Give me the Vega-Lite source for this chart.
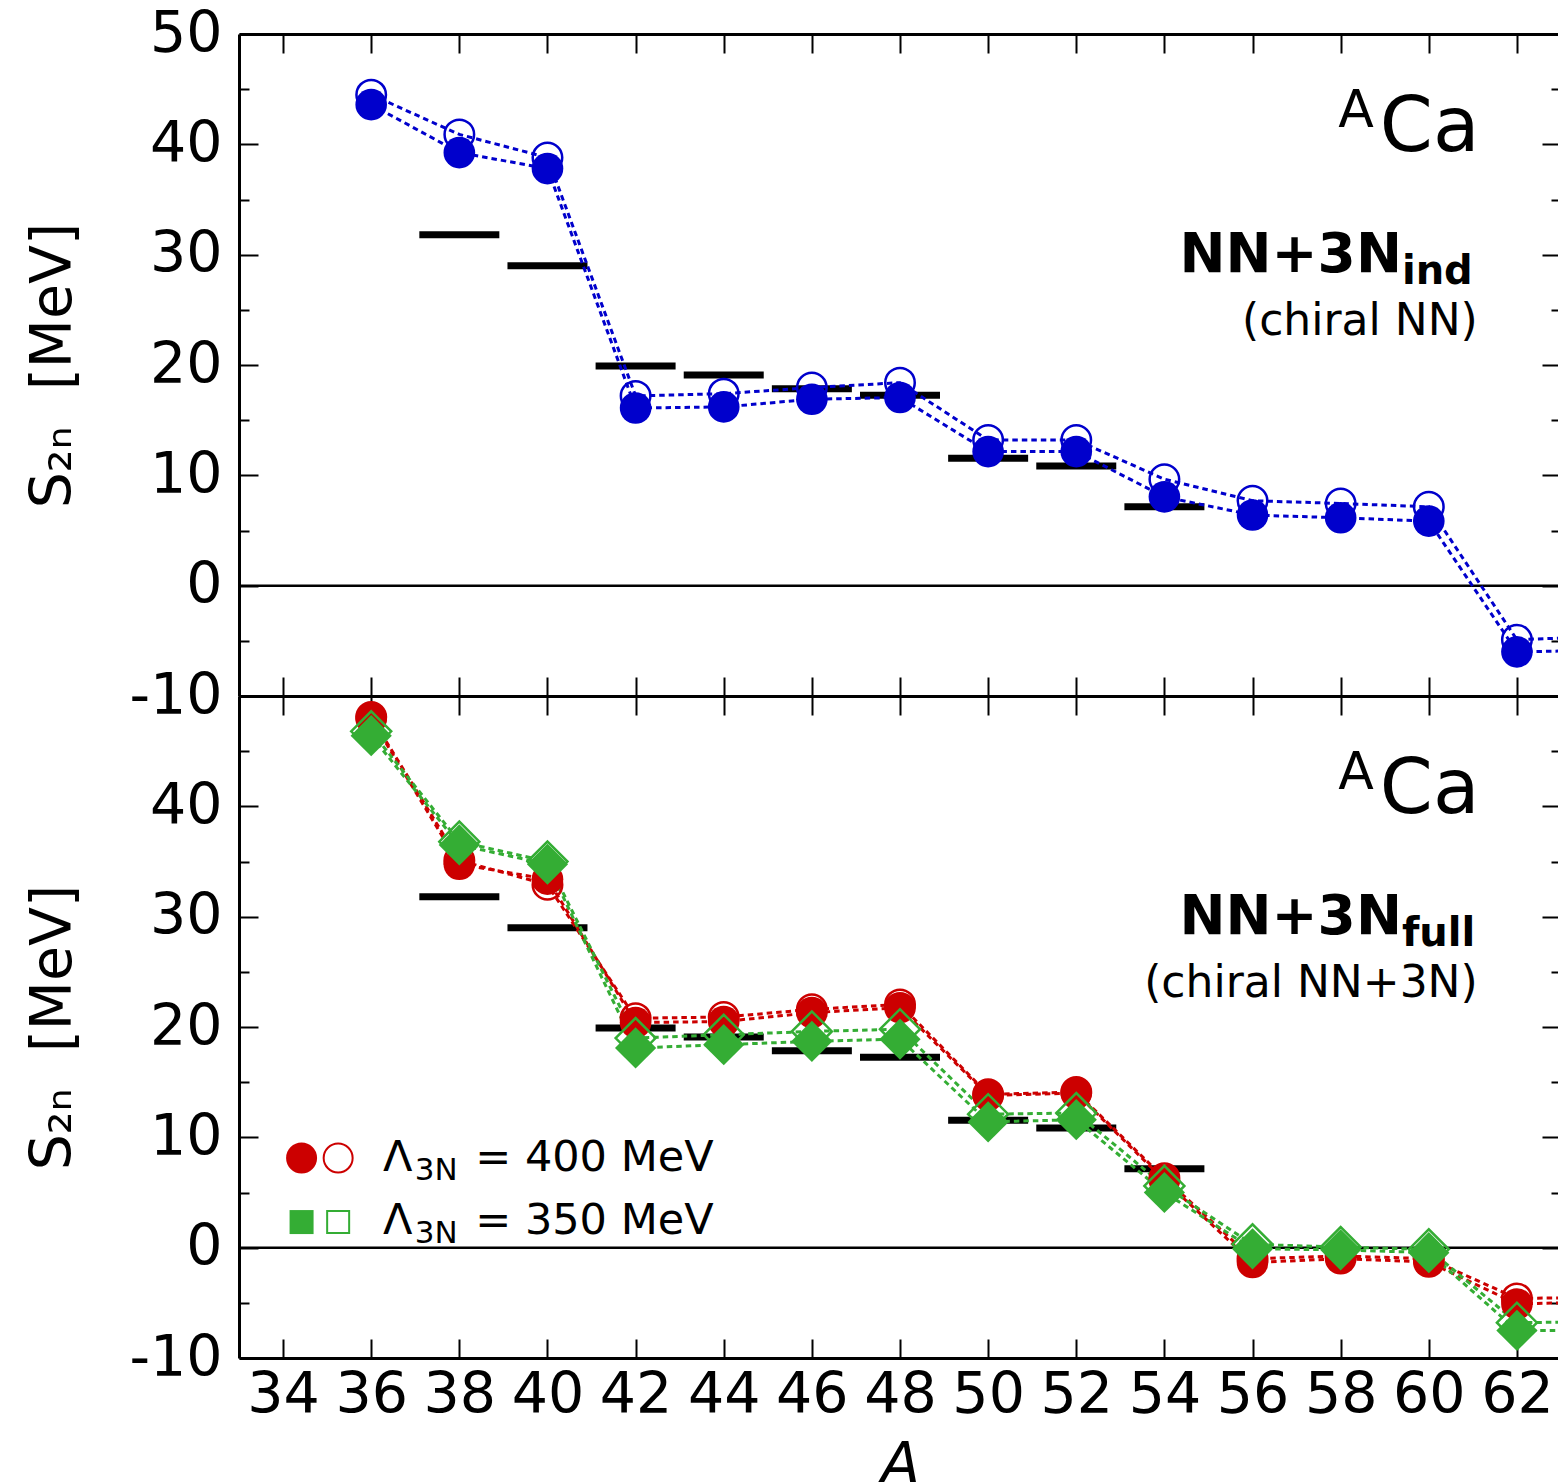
{
  "$schema": "https://vega.github.io/schema/vega-lite/v6.json",
  "background": "white",
  "padding": {"left": 24, "top": 5, "right": 0, "bottom": 0},
  "config": {
    "font": "DejaVu Sans",
    "view": {"stroke": null},
    "axis": {
      "grid": false,
      "domainColor": "black",
      "domainWidth": 3,
      "tickColor": "black",
      "tickWidth": 2,
      "labelFont": "DejaVu Sans",
      "labelFontSize": 57,
      "labelColor": "black",
      "labelFlush": false,
      "labelOverlap": false,
      "titleFont": "DejaVu Sans",
      "titleFontSize": 57,
      "titleFontWeight": "normal",
      "titleColor": "black"
    }
  },
  "spacing": 0,
  "bounds": "flush",
  "datasets": {
    "exp": [
      {"A": 38, "S": 31.8}, {"A": 40, "S": 29.0}, {"A": 42, "S": 19.9}, {"A": 44, "S": 19.1},
      {"A": 46, "S": 17.85}, {"A": 48, "S": 17.25}, {"A": 50, "S": 11.55}, {"A": 52, "S": 10.85}, {"A": 54, "S": 7.15}
    ],
    "theory": [
      {"panel": "top", "series": "ind", "kind": "open", "A": 36, "S": 44.5},
      {"panel": "top", "series": "ind", "kind": "open", "A": 38, "S": 40.9},
      {"panel": "top", "series": "ind", "kind": "open", "A": 40, "S": 38.8},
      {"panel": "top", "series": "ind", "kind": "open", "A": 42, "S": 17.2},
      {"panel": "top", "series": "ind", "kind": "open", "A": 44, "S": 17.4},
      {"panel": "top", "series": "ind", "kind": "open", "A": 46, "S": 17.95},
      {"panel": "top", "series": "ind", "kind": "open", "A": 48, "S": 18.4},
      {"panel": "top", "series": "ind", "kind": "open", "A": 50, "S": 13.2},
      {"panel": "top", "series": "ind", "kind": "open", "A": 52, "S": 13.2},
      {"panel": "top", "series": "ind", "kind": "open", "A": 54, "S": 9.65},
      {"panel": "top", "series": "ind", "kind": "open", "A": 56, "S": 7.7},
      {"panel": "top", "series": "ind", "kind": "open", "A": 58, "S": 7.45},
      {"panel": "top", "series": "ind", "kind": "open", "A": 60, "S": 7.15},
      {"panel": "top", "series": "ind", "kind": "open", "A": 62, "S": -4.9},
      {"panel": "top", "series": "ind", "kind": "open", "A": 64, "S": -4.6},
      {"panel": "top", "series": "ind", "kind": "filled", "A": 36, "S": 43.6},
      {"panel": "top", "series": "ind", "kind": "filled", "A": 38, "S": 39.25},
      {"panel": "top", "series": "ind", "kind": "filled", "A": 40, "S": 37.8},
      {"panel": "top", "series": "ind", "kind": "filled", "A": 42, "S": 16.1},
      {"panel": "top", "series": "ind", "kind": "filled", "A": 44, "S": 16.2},
      {"panel": "top", "series": "ind", "kind": "filled", "A": 46, "S": 16.9},
      {"panel": "top", "series": "ind", "kind": "filled", "A": 48, "S": 17.05},
      {"panel": "top", "series": "ind", "kind": "filled", "A": 50, "S": 12.15},
      {"panel": "top", "series": "ind", "kind": "filled", "A": 52, "S": 12.15},
      {"panel": "top", "series": "ind", "kind": "filled", "A": 54, "S": 8.05},
      {"panel": "top", "series": "ind", "kind": "filled", "A": 56, "S": 6.4},
      {"panel": "top", "series": "ind", "kind": "filled", "A": 58, "S": 6.15},
      {"panel": "top", "series": "ind", "kind": "filled", "A": 60, "S": 5.85},
      {"panel": "top", "series": "ind", "kind": "filled", "A": 62, "S": -6.0},
      {"panel": "top", "series": "ind", "kind": "filled", "A": 64, "S": -5.85},
      {"panel": "bottom", "series": "400", "kind": "open", "A": 36, "S": 48.1},
      {"panel": "bottom", "series": "400", "kind": "open", "A": 38, "S": 35.1},
      {"panel": "bottom", "series": "400", "kind": "open", "A": 40, "S": 32.9},
      {"panel": "bottom", "series": "400", "kind": "open", "A": 42, "S": 20.8},
      {"panel": "bottom", "series": "400", "kind": "open", "A": 44, "S": 20.9},
      {"panel": "bottom", "series": "400", "kind": "open", "A": 46, "S": 21.6},
      {"panel": "bottom", "series": "400", "kind": "open", "A": 48, "S": 22.05},
      {"panel": "bottom", "series": "400", "kind": "open", "A": 50, "S": 13.9},
      {"panel": "bottom", "series": "400", "kind": "open", "A": 52, "S": 14.1},
      {"panel": "bottom", "series": "400", "kind": "open", "A": 54, "S": 6.3},
      {"panel": "bottom", "series": "400", "kind": "open", "A": 56, "S": -1.0},
      {"panel": "bottom", "series": "400", "kind": "open", "A": 58, "S": -0.75},
      {"panel": "bottom", "series": "400", "kind": "open", "A": 60, "S": -1.0},
      {"panel": "bottom", "series": "400", "kind": "open", "A": 62, "S": -4.6},
      {"panel": "bottom", "series": "400", "kind": "open", "A": 64, "S": -4.5},
      {"panel": "bottom", "series": "400", "kind": "filled", "A": 36, "S": 47.95},
      {"panel": "bottom", "series": "400", "kind": "filled", "A": 38, "S": 34.75},
      {"panel": "bottom", "series": "400", "kind": "filled", "A": 40, "S": 33.4},
      {"panel": "bottom", "series": "400", "kind": "filled", "A": 42, "S": 20.4},
      {"panel": "bottom", "series": "400", "kind": "filled", "A": 44, "S": 20.5},
      {"panel": "bottom", "series": "400", "kind": "filled", "A": 46, "S": 21.3},
      {"panel": "bottom", "series": "400", "kind": "filled", "A": 48, "S": 21.75},
      {"panel": "bottom", "series": "400", "kind": "filled", "A": 50, "S": 13.8},
      {"panel": "bottom", "series": "400", "kind": "filled", "A": 52, "S": 14.0},
      {"panel": "bottom", "series": "400", "kind": "filled", "A": 54, "S": 6.1},
      {"panel": "bottom", "series": "400", "kind": "filled", "A": 56, "S": -1.35},
      {"panel": "bottom", "series": "400", "kind": "filled", "A": 58, "S": -1.0},
      {"panel": "bottom", "series": "400", "kind": "filled", "A": 60, "S": -1.3},
      {"panel": "bottom", "series": "400", "kind": "filled", "A": 62, "S": -5.1},
      {"panel": "bottom", "series": "400", "kind": "filled", "A": 64, "S": -4.9},
      {"panel": "bottom", "series": "350", "kind": "open", "A": 36, "S": 46.8},
      {"panel": "bottom", "series": "350", "kind": "open", "A": 38, "S": 36.8},
      {"panel": "bottom", "series": "350", "kind": "open", "A": 40, "S": 35.0},
      {"panel": "bottom", "series": "350", "kind": "open", "A": 42, "S": 19.0},
      {"panel": "bottom", "series": "350", "kind": "open", "A": 44, "S": 19.3},
      {"panel": "bottom", "series": "350", "kind": "open", "A": 46, "S": 19.6},
      {"panel": "bottom", "series": "350", "kind": "open", "A": 48, "S": 19.8},
      {"panel": "bottom", "series": "350", "kind": "open", "A": 50, "S": 12.1},
      {"panel": "bottom", "series": "350", "kind": "open", "A": 52, "S": 12.2},
      {"panel": "bottom", "series": "350", "kind": "open", "A": 54, "S": 5.6},
      {"panel": "bottom", "series": "350", "kind": "open", "A": 56, "S": 0.3},
      {"panel": "bottom", "series": "350", "kind": "open", "A": 58, "S": 0.05},
      {"panel": "bottom", "series": "350", "kind": "open", "A": 60, "S": -0.15},
      {"panel": "bottom", "series": "350", "kind": "open", "A": 62, "S": -6.8},
      {"panel": "bottom", "series": "350", "kind": "open", "A": 64, "S": -6.7},
      {"panel": "bottom", "series": "350", "kind": "filled", "A": 36, "S": 46.4},
      {"panel": "bottom", "series": "350", "kind": "filled", "A": 38, "S": 36.5},
      {"panel": "bottom", "series": "350", "kind": "filled", "A": 40, "S": 34.75},
      {"panel": "bottom", "series": "350", "kind": "filled", "A": 42, "S": 18.1},
      {"panel": "bottom", "series": "350", "kind": "filled", "A": 44, "S": 18.4},
      {"panel": "bottom", "series": "350", "kind": "filled", "A": 46, "S": 18.7},
      {"panel": "bottom", "series": "350", "kind": "filled", "A": 48, "S": 18.9},
      {"panel": "bottom", "series": "350", "kind": "filled", "A": 50, "S": 11.4},
      {"panel": "bottom", "series": "350", "kind": "filled", "A": 52, "S": 11.6},
      {"panel": "bottom", "series": "350", "kind": "filled", "A": 54, "S": 5.0},
      {"panel": "bottom", "series": "350", "kind": "filled", "A": 56, "S": -0.1},
      {"panel": "bottom", "series": "350", "kind": "filled", "A": 58, "S": -0.2},
      {"panel": "bottom", "series": "350", "kind": "filled", "A": 60, "S": -0.45},
      {"panel": "bottom", "series": "350", "kind": "filled", "A": 62, "S": -7.5},
      {"panel": "bottom", "series": "350", "kind": "filled", "A": 64, "S": -7.5}
    ],
    "notes": [
      {"panel": "top", "role": "nucleus", "text": "Ca", "A": 61.15, "S": 39.4},
      {"panel": "top", "role": "mass", "text": "A", "A": 58.75, "S": 41.6},
      {"panel": "top", "role": "model", "text": "NN+3N", "A": 59.39, "S": 28.4},
      {"panel": "top", "role": "modelsub", "text": "ind", "A": 59.39, "S": 27.3},
      {"panel": "top", "role": "desc", "text": "(chiral NN)", "A": 61.11, "S": 22.75},
      {"panel": "bottom", "role": "nucleus", "text": "Ca", "A": 61.15, "S": 39.4},
      {"panel": "bottom", "role": "mass", "text": "A", "A": 58.75, "S": 41.6},
      {"panel": "bottom", "role": "model", "text": "NN+3N", "A": 59.39, "S": 28.4},
      {"panel": "bottom", "role": "modelsub", "text": "full", "A": 59.39, "S": 27.3},
      {"panel": "bottom", "role": "desc", "text": "(chiral NN+3N)", "A": 61.11, "S": 22.75}
    ],
    "legendMarks": [
      {"series": "400", "kind": "filled", "A": 34.42, "S": 8.13},
      {"series": "400", "kind": "open", "A": 35.25, "S": 8.13},
      {"series": "350", "kind": "filled", "A": 34.42, "S": 2.32},
      {"series": "350", "kind": "open", "A": 35.25, "S": 2.32}
    ],
    "legendText": [
      {"role": "main", "text": "Λ", "A": 36.27, "S": 6.95},
      {"role": "sub", "text": "3N", "A": 36.99, "S": 6.14},
      {"role": "main", "text": "= 400 MeV", "A": 38.36, "S": 6.95},
      {"role": "main", "text": "Λ", "A": 36.27, "S": 1.24},
      {"role": "sub", "text": "3N", "A": 36.99, "S": 0.43},
      {"role": "main", "text": "= 350 MeV", "A": 38.36, "S": 1.24}
    ]
  },
  "vconcat": [
    {
      "width": 1322,
      "height": 662,
      "resolve": {"axis": {"x": "independent", "y": "independent"}},
      "layer": [
        {
          "data": {"values": [{}]},
          "mark": {"type": "rule", "color": "black", "strokeWidth": 2.5},
          "encoding": {"y": {"datum": 0, "type": "quantitative", "scale": {"domain": [-10, 50], "nice": false, "zero": false}, "axis": null}}
        },
        {
          "data": {"name": "exp"},
          "mark": {"type": "tick", "orient": "horizontal", "size": 80, "thickness": 7, "color": "black", "opacity": 1},
          "encoding": {
            "x": {"field": "A", "type": "quantitative", "scale": {"domain": [33, 63], "nice": false, "zero": false},
              "axis": {"orient": "top", "values": [34, 36, 38, 40, 42, 44, 46, 48, 50, 52, 54, 56, 58, 60, 62], "labels": false, "tickSize": -19, "title": null}},
            "y": {"field": "S", "type": "quantitative", "scale": {"domain": [-10, 50], "nice": false, "zero": false},
              "axis": {"orient": "right", "values": [-10, -5, 0, 5, 10, 15, 20, 25, 30, 35, 40, 45, 50], "labels": false, "tickSize": {"condition": {"test": "datum.value % 10 === 0", "value": -19}, "value": -10}, "title": null}}
          }
        },
        {
          "data": {"name": "theory"},
          "transform": [{"filter": "datum.panel === 'top'"}],
          "mark": {"type": "line", "strokeDash": [5.5, 4], "strokeWidth": 3, "color": "#0000CC", "clip": true},
          "encoding": {
            "x": {"field": "A", "type": "quantitative", "scale": {"domain": [33, 63], "nice": false, "zero": false},
              "axis": {"orient": "bottom", "values": [34, 36, 38, 40, 42, 44, 46, 48, 50, 52, 54, 56, 58, 60, 62], "labels": false, "tickSize": -19, "title": null}},
            "y": {"field": "S", "type": "quantitative", "scale": {"domain": [-10, 50], "nice": false, "zero": false},
              "axis": {"orient": "left", "values": [-10, -5, 0, 5, 10, 15, 20, 25, 30, 35, 40, 45, 50],
                "labelExpr": "datum.value % 10 === 0 ? '' + datum.value : ''",
                "tickSize": {"condition": {"test": "datum.value % 10 === 0", "value": -19}, "value": -10},
                "labelPadding": 36, "title": "S₂ₙ\u00a0\u00a0[MeV]", "titlePadding": 46}},
            "detail": {"field": "kind"}
          }
        },
        {
          "data": {"name": "theory"},
          "transform": [{"filter": "datum.panel === 'top' && datum.kind === 'open'"}],
          "mark": {"type": "point", "shape": "circle", "filled": false, "size": 870, "strokeWidth": 2.5, "color": "#0000CC", "opacity": 1, "clip": true},
          "encoding": {
            "x": {"field": "A", "type": "quantitative", "axis": null},
            "y": {"field": "S", "type": "quantitative", "axis": null}
          }
        },
        {
          "data": {"name": "theory"},
          "transform": [{"filter": "datum.panel === 'top' && datum.kind === 'filled'"}],
          "mark": {"type": "point", "shape": "circle", "filled": true, "size": 1000, "color": "#0000CC", "opacity": 1, "clip": true},
          "encoding": {
            "x": {"field": "A", "type": "quantitative", "axis": null},
            "y": {"field": "S", "type": "quantitative", "axis": null}
          }
        },
        {
          "data": {"name": "notes"},
          "transform": [{"filter": "datum.panel === 'top' && datum.role === 'nucleus'"}],
          "mark": {"type": "text", "fontSize": 76, "align": "right", "baseline": "alphabetic", "color": "black"},
          "encoding": {"x": {"field": "A", "type": "quantitative", "axis": null}, "y": {"field": "S", "type": "quantitative", "axis": null}, "text": {"field": "text"}}
        },
        {
          "data": {"name": "notes"},
          "transform": [{"filter": "datum.panel === 'top' && datum.role === 'mass'"}],
          "mark": {"type": "text", "fontSize": 52, "align": "right", "baseline": "alphabetic", "color": "black"},
          "encoding": {"x": {"field": "A", "type": "quantitative", "axis": null}, "y": {"field": "S", "type": "quantitative", "axis": null}, "text": {"field": "text"}}
        },
        {
          "data": {"name": "notes"},
          "transform": [{"filter": "datum.panel === 'top' && datum.role === 'model'"}],
          "mark": {"type": "text", "fontSize": 55, "fontWeight": "bold", "align": "right", "baseline": "alphabetic", "color": "black"},
          "encoding": {"x": {"field": "A", "type": "quantitative", "axis": null}, "y": {"field": "S", "type": "quantitative", "axis": null}, "text": {"field": "text"}}
        },
        {
          "data": {"name": "notes"},
          "transform": [{"filter": "datum.panel === 'top' && datum.role === 'modelsub'"}],
          "mark": {"type": "text", "fontSize": 40, "fontWeight": "bold", "align": "left", "baseline": "alphabetic", "color": "black"},
          "encoding": {"x": {"field": "A", "type": "quantitative", "axis": null}, "y": {"field": "S", "type": "quantitative", "axis": null}, "text": {"field": "text"}}
        },
        {
          "data": {"name": "notes"},
          "transform": [{"filter": "datum.panel === 'top' && datum.role === 'desc'"}],
          "mark": {"type": "text", "fontSize": 44, "align": "right", "baseline": "alphabetic", "color": "black"},
          "encoding": {"x": {"field": "A", "type": "quantitative", "axis": null}, "y": {"field": "S", "type": "quantitative", "axis": null}, "text": {"field": "text"}}
        }
      ]
    },
    {
      "width": 1322,
      "height": 662,
      "resolve": {"axis": {"x": "independent", "y": "independent"}},
      "layer": [
        {
          "data": {"values": [{}]},
          "mark": {"type": "rule", "color": "black", "strokeWidth": 2.5},
          "encoding": {"y": {"datum": 0, "type": "quantitative", "scale": {"domain": [-10, 50], "nice": false, "zero": false}, "axis": null}}
        },
        {
          "data": {"name": "exp"},
          "mark": {"type": "tick", "orient": "horizontal", "size": 80, "thickness": 7, "color": "black", "opacity": 1},
          "encoding": {
            "x": {"field": "A", "type": "quantitative", "scale": {"domain": [33, 63], "nice": false, "zero": false},
              "axis": {"orient": "top", "values": [34, 36, 38, 40, 42, 44, 46, 48, 50, 52, 54, 56, 58, 60, 62], "labels": false, "tickSize": -19, "title": null}},
            "y": {"field": "S", "type": "quantitative", "scale": {"domain": [-10, 50], "nice": false, "zero": false},
              "axis": {"orient": "right", "values": [-10, -5, 0, 5, 10, 15, 20, 25, 30, 35, 40, 45, 50], "labels": false, "tickSize": {"condition": {"test": "datum.value % 10 === 0", "value": -19}, "value": -10}, "title": null}}
          }
        },
        {
          "data": {"name": "theory"},
          "transform": [{"filter": "datum.panel === 'bottom' && datum.series === '400'"}],
          "mark": {"type": "line", "strokeDash": [5.5, 4], "strokeWidth": 3, "color": "#CC0000", "clip": true},
          "encoding": {
            "x": {"field": "A", "type": "quantitative", "scale": {"domain": [33, 63], "nice": false, "zero": false},
              "axis": {"orient": "bottom", "values": [34, 36, 38, 40, 42, 44, 46, 48, 50, 52, 54, 56, 58, 60, 62], "labelExpr": "'' + datum.value", "tickSize": -19, "labelPadding": 28, "title": "A", "titleFontStyle": "italic", "titlePadding": 14}},
            "y": {"field": "S", "type": "quantitative", "scale": {"domain": [-10, 50], "nice": false, "zero": false},
              "axis": {"orient": "left", "values": [-10, -5, 0, 5, 10, 15, 20, 25, 30, 35, 40, 45, 50],
                "labelExpr": "datum.value % 10 === 0 && datum.value < 50 ? '' + datum.value : ''",
                "tickSize": {"condition": {"test": "datum.value % 10 === 0", "value": -19}, "value": -10},
                "labelPadding": 36, "title": "S₂ₙ\u00a0\u00a0[MeV]", "titlePadding": 46}},
            "detail": {"field": "kind"}
          }
        },
        {
          "data": {"name": "theory"},
          "transform": [{"filter": "datum.panel === 'bottom' && datum.series === '350'"}],
          "mark": {"type": "line", "strokeDash": [5.5, 4], "strokeWidth": 3, "color": "#34AD34", "clip": true},
          "encoding": {
            "x": {"field": "A", "type": "quantitative", "axis": null},
            "y": {"field": "S", "type": "quantitative", "axis": null},
            "detail": {"field": "kind"}
          }
        },
        {
          "data": {"name": "theory"},
          "transform": [{"filter": "datum.panel === 'bottom' && datum.series === '400' && datum.kind === 'open'"}],
          "mark": {"type": "point", "shape": "circle", "filled": false, "size": 870, "strokeWidth": 2.5, "color": "#CC0000", "opacity": 1, "clip": true},
          "encoding": {"x": {"field": "A", "type": "quantitative", "axis": null}, "y": {"field": "S", "type": "quantitative", "axis": null}}
        },
        {
          "data": {"name": "theory"},
          "transform": [{"filter": "datum.panel === 'bottom' && datum.series === '400' && datum.kind === 'filled'"}],
          "mark": {"type": "point", "shape": "circle", "filled": true, "size": 1000, "color": "#CC0000", "opacity": 1, "clip": true},
          "encoding": {"x": {"field": "A", "type": "quantitative", "axis": null}, "y": {"field": "S", "type": "quantitative", "axis": null}}
        },
        {
          "data": {"name": "theory"},
          "transform": [{"filter": "datum.panel === 'bottom' && datum.series === '350' && datum.kind === 'open'"}],
          "mark": {"type": "point", "shape": "diamond", "filled": false, "size": 1600, "strokeWidth": 2.5, "color": "#34AD34", "opacity": 1, "clip": true},
          "encoding": {"x": {"field": "A", "type": "quantitative", "axis": null}, "y": {"field": "S", "type": "quantitative", "axis": null}}
        },
        {
          "data": {"name": "theory"},
          "transform": [{"filter": "datum.panel === 'bottom' && datum.series === '350' && datum.kind === 'filled'"}],
          "mark": {"type": "point", "shape": "diamond", "filled": true, "size": 1700, "color": "#34AD34", "opacity": 1, "clip": true},
          "encoding": {"x": {"field": "A", "type": "quantitative", "axis": null}, "y": {"field": "S", "type": "quantitative", "axis": null}}
        },
        {
          "data": {"name": "legendMarks"},
          "transform": [{"filter": "datum.series === '400' && datum.kind === 'filled'"}],
          "mark": {"type": "point", "shape": "circle", "filled": true, "size": 960, "color": "#CC0000", "opacity": 1},
          "encoding": {"x": {"field": "A", "type": "quantitative", "axis": null}, "y": {"field": "S", "type": "quantitative", "axis": null}}
        },
        {
          "data": {"name": "legendMarks"},
          "transform": [{"filter": "datum.series === '400' && datum.kind === 'open'"}],
          "mark": {"type": "point", "shape": "circle", "filled": false, "size": 840, "strokeWidth": 2, "color": "#CC0000", "opacity": 1},
          "encoding": {"x": {"field": "A", "type": "quantitative", "axis": null}, "y": {"field": "S", "type": "quantitative", "axis": null}}
        },
        {
          "data": {"name": "legendMarks"},
          "transform": [{"filter": "datum.series === '350' && datum.kind === 'filled'"}],
          "mark": {"type": "point", "shape": "square", "filled": true, "size": 576, "color": "#34AD34", "opacity": 1},
          "encoding": {"x": {"field": "A", "type": "quantitative", "axis": null}, "y": {"field": "S", "type": "quantitative", "axis": null}}
        },
        {
          "data": {"name": "legendMarks"},
          "transform": [{"filter": "datum.series === '350' && datum.kind === 'open'"}],
          "mark": {"type": "point", "shape": "square", "filled": false, "size": 484, "strokeWidth": 2, "color": "#34AD34", "opacity": 1},
          "encoding": {"x": {"field": "A", "type": "quantitative", "axis": null}, "y": {"field": "S", "type": "quantitative", "axis": null}}
        },
        {
          "data": {"name": "legendText"},
          "transform": [{"filter": "datum.role === 'main'"}],
          "mark": {"type": "text", "fontSize": 43, "align": "left", "baseline": "alphabetic", "color": "black"},
          "encoding": {"x": {"field": "A", "type": "quantitative", "axis": null}, "y": {"field": "S", "type": "quantitative", "axis": null}, "text": {"field": "text"}}
        },
        {
          "data": {"name": "legendText"},
          "transform": [{"filter": "datum.role === 'sub'"}],
          "mark": {"type": "text", "fontSize": 31, "align": "left", "baseline": "alphabetic", "color": "black"},
          "encoding": {"x": {"field": "A", "type": "quantitative", "axis": null}, "y": {"field": "S", "type": "quantitative", "axis": null}, "text": {"field": "text"}}
        },
        {
          "data": {"name": "notes"},
          "transform": [{"filter": "datum.panel === 'bottom' && datum.role === 'nucleus'"}],
          "mark": {"type": "text", "fontSize": 76, "align": "right", "baseline": "alphabetic", "color": "black"},
          "encoding": {"x": {"field": "A", "type": "quantitative", "axis": null}, "y": {"field": "S", "type": "quantitative", "axis": null}, "text": {"field": "text"}}
        },
        {
          "data": {"name": "notes"},
          "transform": [{"filter": "datum.panel === 'bottom' && datum.role === 'mass'"}],
          "mark": {"type": "text", "fontSize": 52, "align": "right", "baseline": "alphabetic", "color": "black"},
          "encoding": {"x": {"field": "A", "type": "quantitative", "axis": null}, "y": {"field": "S", "type": "quantitative", "axis": null}, "text": {"field": "text"}}
        },
        {
          "data": {"name": "notes"},
          "transform": [{"filter": "datum.panel === 'bottom' && datum.role === 'model'"}],
          "mark": {"type": "text", "fontSize": 55, "fontWeight": "bold", "align": "right", "baseline": "alphabetic", "color": "black"},
          "encoding": {"x": {"field": "A", "type": "quantitative", "axis": null}, "y": {"field": "S", "type": "quantitative", "axis": null}, "text": {"field": "text"}}
        },
        {
          "data": {"name": "notes"},
          "transform": [{"filter": "datum.panel === 'bottom' && datum.role === 'modelsub'"}],
          "mark": {"type": "text", "fontSize": 40, "fontWeight": "bold", "align": "left", "baseline": "alphabetic", "color": "black"},
          "encoding": {"x": {"field": "A", "type": "quantitative", "axis": null}, "y": {"field": "S", "type": "quantitative", "axis": null}, "text": {"field": "text"}}
        },
        {
          "data": {"name": "notes"},
          "transform": [{"filter": "datum.panel === 'bottom' && datum.role === 'desc'"}],
          "mark": {"type": "text", "fontSize": 44, "align": "right", "baseline": "alphabetic", "color": "black"},
          "encoding": {"x": {"field": "A", "type": "quantitative", "axis": null}, "y": {"field": "S", "type": "quantitative", "axis": null}, "text": {"field": "text"}}
        }
      ]
    }
  ]
}
